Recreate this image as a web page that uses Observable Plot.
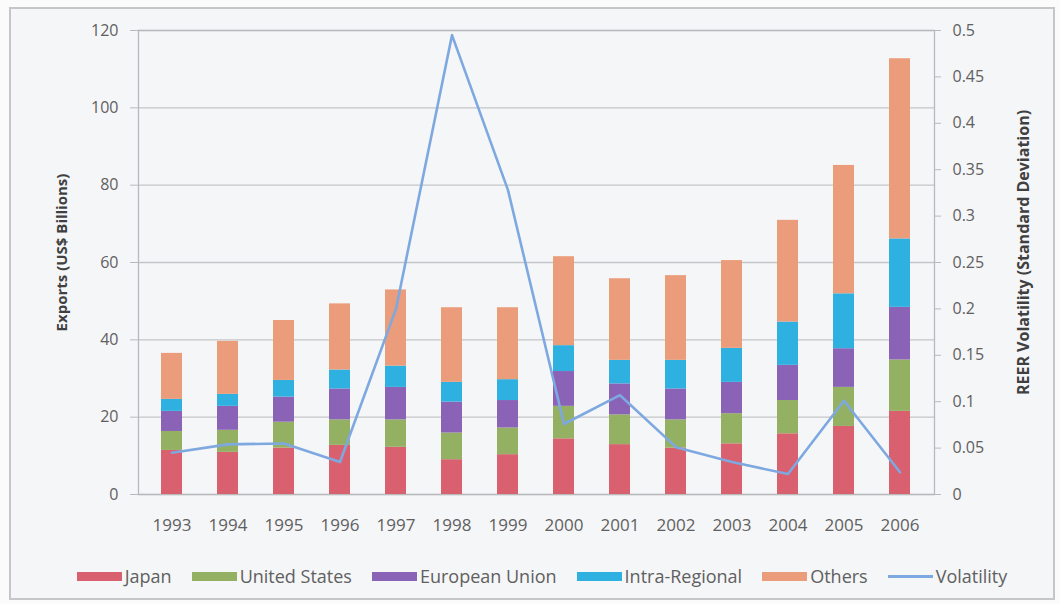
<!DOCTYPE html>
<html>
<head>
<meta charset="utf-8">
<script src="https://cdn.jsdelivr.net/npm/d3@7"></script>
<script src="https://cdn.jsdelivr.net/npm/@observablehq/plot@0.6"></script>
<style>
  body { margin: 0; background: #fbfbfc; font-family: "Open Sans", sans-serif; }
  #frame { position: absolute; left: 9px; top: 7px; width: 1046px; height: 593px; border: 2px solid #c6c6c8; background: #f5f6f8; box-sizing: border-box; }
  #chart { position: absolute; left: 0; top: 0; }
  #legend { position: absolute; left: 12px; top: 564px; width: 1060px; display: flex; justify-content: center; align-items: center; font-size: 18px; color: #606060; gap: 20px; }
  .item { display: flex; align-items: center; }
  .sw { width: 45px; height: 9px; margin-right: 3px; }
  .ln { width: 45px; height: 3px; margin-right: 3px; }
</style>
</head>
<body>
<div id="frame"></div>
<div id="chart"></div>
<div id="legend"></div>
<script>
// ---- data ----
const years = ["1993","1994","1995","1996","1997","1998","1999","2000","2001","2002","2003","2004","2005","2006"];
const japan         = [11.4, 10.9, 12.0, 12.7, 12.2,  9.0, 10.3, 14.4, 12.9, 12.0, 13.1, 15.7, 17.6, 21.5];
const unitedStates  = [ 4.9,  5.7,  6.7,  6.6,  7.1,  6.9,  6.9,  8.4,  7.7,  7.3,  7.8,  8.6, 10.1, 13.3];
const europeanUnion = [ 5.2,  6.2,  6.5,  8.0,  8.4,  8.0,  7.1,  9.0,  8.0,  8.0,  8.1,  9.1, 10.0, 13.6];
const intraRegional = [ 3.1,  3.1,  4.3,  4.9,  5.5,  5.1,  5.4,  6.7,  6.1,  7.4,  8.8, 11.2, 14.2, 17.7];
const others        = [11.9, 13.7, 15.5, 17.1, 19.7, 19.3, 18.6, 23.0, 21.1, 21.9, 22.7, 26.3, 33.2, 46.6];
const volatility    = [0.045, 0.054, 0.055, 0.035, 0.200, 0.495, 0.328, 0.076, 0.107, 0.051, 0.035, 0.022, 0.101, 0.024];

const seriesNames = ["Japan", "United States", "European Union", "Intra-Regional", "Others"];
const seriesColors = ["#d9606f", "#93b063", "#8a62b6", "#2eb0e0", "#eb9c7a"];
const lineName = "Volatility";
const lineColor = "#7ea8e0";

const leftTicks = [0, 20, 40, 60, 80, 100, 120];
const rightTicks = [0, 0.05, 0.1, 0.15, 0.2, 0.25, 0.3, 0.35, 0.4, 0.45, 0.5];
const leftTitle = "Exports (US$ Billions)";
const rightTitle = "REER Volatility (Standard Deviation)";

// ---- build ----
const seriesValues = [japan, unitedStates, europeanUnion, intraRegional, others];
const bars = years.flatMap((yr, i) => seriesNames.map((s, k) => ({year: yr, series: s, value: seriesValues[k][i]})));
const ratio = 120 / 0.5; // right axis max 0.5 maps to left axis max 120
const vol = years.map((yr, i) => ({year: yr, v: volatility[i] * ratio}));

const chart = Plot.plot({
  width: 1060,
  height: 545,
  marginTop: 30,
  marginBottom: 51,
  marginLeft: 138,
  marginRight: 126,
  style: {background: "transparent", fontFamily: "Open Sans, sans-serif", fontSize: "16px", color: "#606060"},
  x: {domain: years, paddingInner: 0.62, paddingOuter: 0.31, label: null},
  y: {domain: [0, 120], label: null},
  color: {domain: seriesNames, range: seriesColors},
  marks: [
    Plot.gridY(leftTicks, {stroke: "#c4c5c8", strokeOpacity: 1, strokeWidth: 1.3}),
    Plot.frame({stroke: "#b8b9bc", strokeWidth: 1.3}),
    Plot.barY(bars, {x: "year", y: "value", fill: "series", order: seriesNames}),
    Plot.line(vol, {x: "year", y: "v", stroke: lineColor, strokeWidth: 2.6}),
    Plot.axisY(leftTicks, {anchor: "left", tickSize: 8, tickPadding: 12, label: null, stroke: "#b8b9bc", fill: "#606060"}),
    Plot.axisY(rightTicks.map(t => t * ratio), {anchor: "right", tickSize: 6, tickPadding: 12, label: null,
      tickFormat: d => String(+(d / ratio).toFixed(2)), stroke: "#b8b9bc", fill: "#606060"}),
    Plot.axisX({tickSize: 0, tickPadding: 24, label: null, fontSize: 17, fill: "#606060"}),
    Plot.text([leftTitle], {text: d => d, frameAnchor: "left", textAnchor: "middle", dx: -76, dy: -10, rotate: -90, fontWeight: "bold", fontSize: 15, fill: "#404040"}),
    Plot.text([rightTitle], {text: d => d, frameAnchor: "right", textAnchor: "middle", dx: 89, dy: -10, rotate: -90, fontWeight: "bold", fontSize: 16, fill: "#404040"})
  ]
});
document.getElementById("chart").appendChild(chart);

// legend
const legend = document.getElementById("legend");
seriesNames.forEach((s, k) => {
  const it = document.createElement("div");
  it.className = "item";
  it.innerHTML = `<span class="sw" style="background:${seriesColors[k]}"></span><span>${s}</span>`;
  legend.appendChild(it);
});
const li = document.createElement("div");
li.className = "item";
li.innerHTML = `<span class="ln" style="background:${lineColor}"></span><span>${lineName}</span>`;
legend.appendChild(li);
</script>
</body>
</html>
